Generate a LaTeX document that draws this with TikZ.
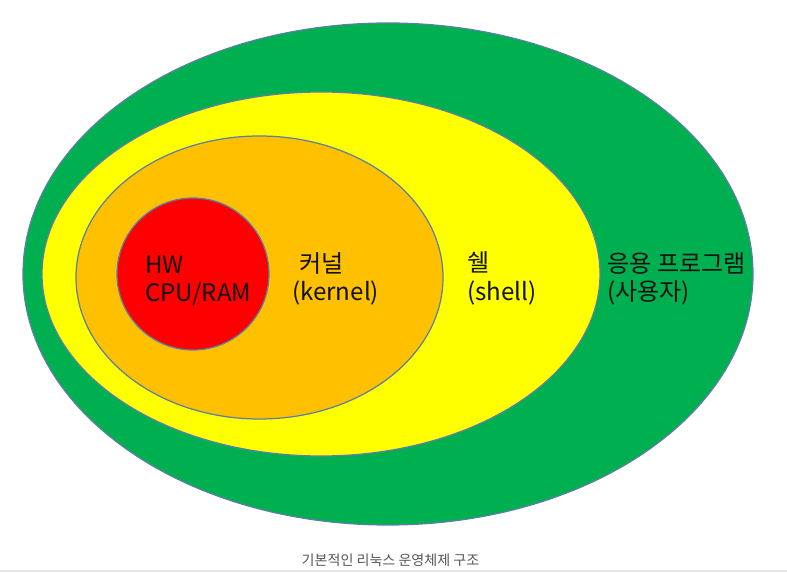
\documentclass[tikz,border=0pt]{standalone}
\usepackage{fontspec}
\usepackage{tikz}
\usetikzlibrary{shapes.geometric}
\setmainfont{Noto Sans CJK KR}
\definecolor{osgreen}{HTML}{00B050}
\definecolor{osyellow}{HTML}{FFFF00}
\definecolor{osorange}{HTML}{FFC000}
\definecolor{osred}{HTML}{FF0000}
\definecolor{osedge}{HTML}{5B7FA6}
\definecolor{osfg}{HTML}{111111}
\definecolor{oscaption}{HTML}{555555}
\definecolor{osrule}{HTML}{E4E4E4}

\begin{document}
\begin{tikzpicture}[x=1cm,y=1cm,font=\fontsize{13.7}{16.2}\selectfont]
  \tikzstyle{layer}=[ellipse, draw=osedge, line width=0.7pt, inner sep=0pt]
  \tikzstyle{core}=[circle, draw=osedge, line width=0.7pt, fill=osred, inner sep=0pt, minimum size=3.04cm]
  \tikzstyle{layerlabel}=[text=osfg, align=left, inner sep=0pt, anchor=west]
  \tikzstyle{caption}=[font=\fontsize{8}{9.6}\selectfont, text=oscaption, inner sep=0pt]

  \path[use as bounding box] (0,0) rectangle (15.74,11.46);

  \node[layer, fill=osgreen, minimum width=14.60cm, minimum height=10.04cm] (apps) at (7.76,5.98) {};
  \node[layer, fill=osyellow, minimum width=11.16cm, minimum height=7.28cm] (shell) at (6.42,5.98) {};
  \node[layer, fill=osorange, minimum width=7.34cm, minimum height=5.66cm] (kernel) at (5.19,5.91) {};
  \node[core] (hw) at (3.86,5.98) {};

  \node[layerlabel] (hwlabel) at (2.90,5.84) {HW\\CPU/RAM};
  \node[layerlabel] (kernellabel) at (5.84,5.88) {\hspace{0.3em}커널\\(kernel)};
  \node[layerlabel] (shelllabel) at (9.34,5.89) {쉘\\(shell)};
  \node[layerlabel] (appslabel) at (12.14,5.88) {응용 프로그램\\(사용자)};

  \node[caption] (title) at (7.81,0.25) {기본적인 리눅스 운영체제 구조};
  \draw[osrule, line width=0.04cm] (0,0.04) -- (15.74,0.04);
\end{tikzpicture}
\end{document}
